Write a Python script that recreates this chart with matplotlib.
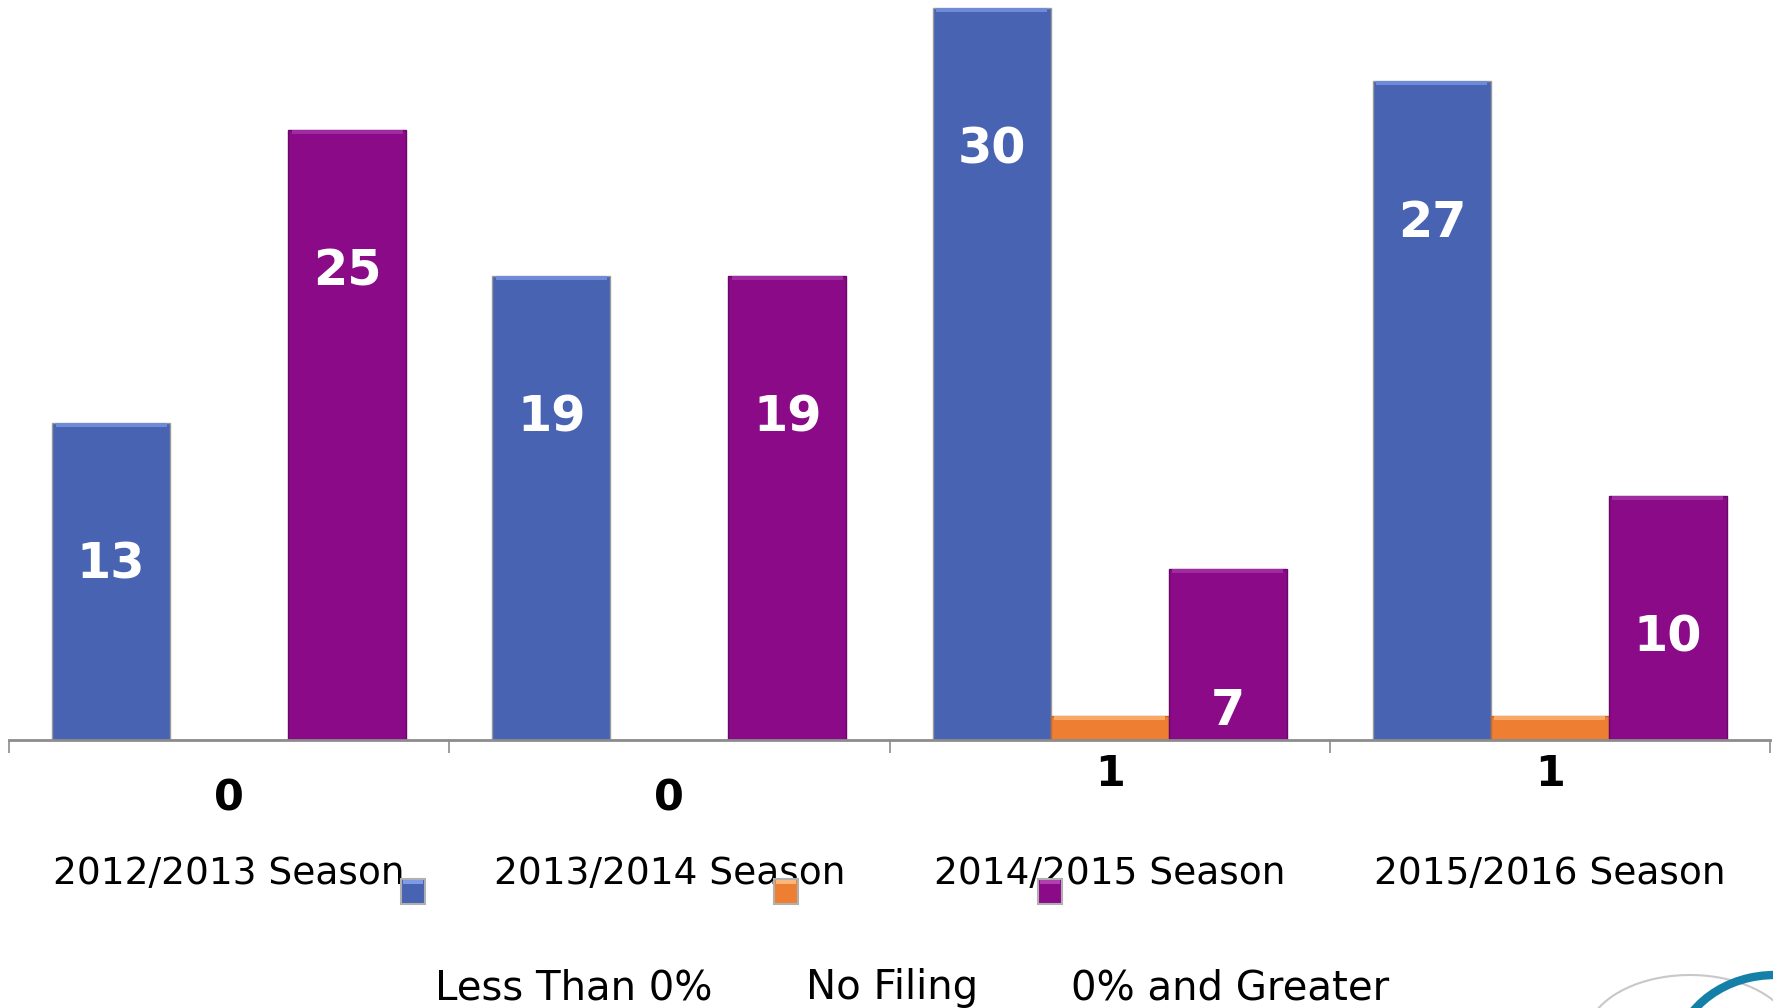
import matplotlib
matplotlib.use('Agg')
import matplotlib.pyplot as plt
from matplotlib.patches import Rectangle, Arc
import numpy as np

# data
seasons = ['2012/2013 Season', '2013/2014 Season', '2014/2015 Season', '2015/2016 Season']
less_than_0 = [13, 19, 30, 27]
no_filing = [0, 0, 1, 1]
zero_and_greater = [25, 19, 7, 10]
legend_labels = ['Less Than 0%', 'No Filing', '0% and Greater']

blue = '#4763B2'
orange = '#EE7E32'
purple = '#8A0A87'

W, H, DPI = 1773, 1008, 100
fig = plt.figure(figsize=(W / DPI, H / DPI), dpi=DPI)
ax = fig.add_axes([9 / W, 1 - 740 / H, 1761 / W, 740 / H])

x = np.arange(len(seasons))
bw = 0.268
series = [(less_than_0, blue, '#9a9a9a', '#6F8AD6', -bw),
          (no_filing, orange, '#C4672A', '#F9A868', 0),
          (zero_and_greater, purple, '#6A0868', '#A02AA0', bw)]

for vals, col, edge, light, off in series:
    ax.bar(x + off, vals, width=bw, color=col, edgecolor=edge, linewidth=1.0, zorder=2)
    # soft bevel highlight on top of each bar
    for xi, v in zip(x, vals):
        if v > 0:
            ax.bar(xi + off, 0.16, bottom=v - 0.16, width=bw * 0.94, color=light,
                   linewidth=0, zorder=3)

# white labels inside the big bars
for vals, off in [(less_than_0, -bw), (zero_and_greater, bw)]:
    for xi, v in zip(x, vals):
        ax.annotate(str(v), xy=(xi + off, v), xytext=(0, -112), textcoords='offset points',
                    ha='center', va='baseline', color='white', fontsize=35.5,
                    fontweight='bold', zorder=4)

# black labels for the no filing bars
for xi, v in zip(x, no_filing):
    ax.annotate(str(v), xy=(xi, v), xytext=(0, -50.5), textcoords='offset points',
                ha='center', va='baseline', color='black', fontsize=31,
                fontweight='bold', annotation_clip=False)

# category labels
for xi, s in zip(x, seasons):
    ax.annotate(s, xy=(xi, 0), xycoords=('data', 'axes fraction'), xytext=(0, -104),
                textcoords='offset points', ha='center', va='baseline', fontsize=27,
                color='black', annotation_clip=False)

ax.set_xlim(-0.5, 3.5)
ax.set_ylim(0, 740 / 24.4)
for side in ['top', 'right', 'left']:
    ax.spines[side].set_visible(False)
ax.spines['bottom'].set_color('#8c8c8c')
ax.spines['bottom'].set_linewidth(2)
ax.set_yticks([])
ax.set_xticks(np.arange(-0.5, 4, 1))
ax.set_xticklabels([])
ax.tick_params(axis='x', direction='out', length=9, width=1.2, color='#8c8c8c')

# legend (markers sit apart from the texts, as in the original)
marker_x = [401, 774, 1038]
for mx, col, light in zip(marker_x, [blue, orange, purple], ['#7F9BE6', '#FDB77A', '#B040B0']):
    fig.patches.append(Rectangle((mx, H - 904), 24, 25, transform=None, facecolor=col,
                                 edgecolor='#b0b0b0', linewidth=1.5))
    fig.patches.append(Rectangle((mx + 2, H - 884), 20, 4, transform=None, facecolor=light,
                                 linewidth=0))
legend_x = [574, 892, 1230]
for lx, lab in zip(legend_x, legend_labels):
    fig.text(lx / W, 1 - 999.5 / H, lab, ha='center', va='baseline', fontsize=29)

# partial logo in the corner
fig.patches.append(Arc((1690, H - 1040), 210, 130, theta1=20, theta2=175, transform=None,
                       color='#c8c8c8', linewidth=1.5))
fig.patches.append(Arc((1775, H - 1060), 200, 170, theta1=60, theta2=150, transform=None,
                       color='#1480A8', linewidth=6))

fig.savefig('out.png', dpi=DPI)
